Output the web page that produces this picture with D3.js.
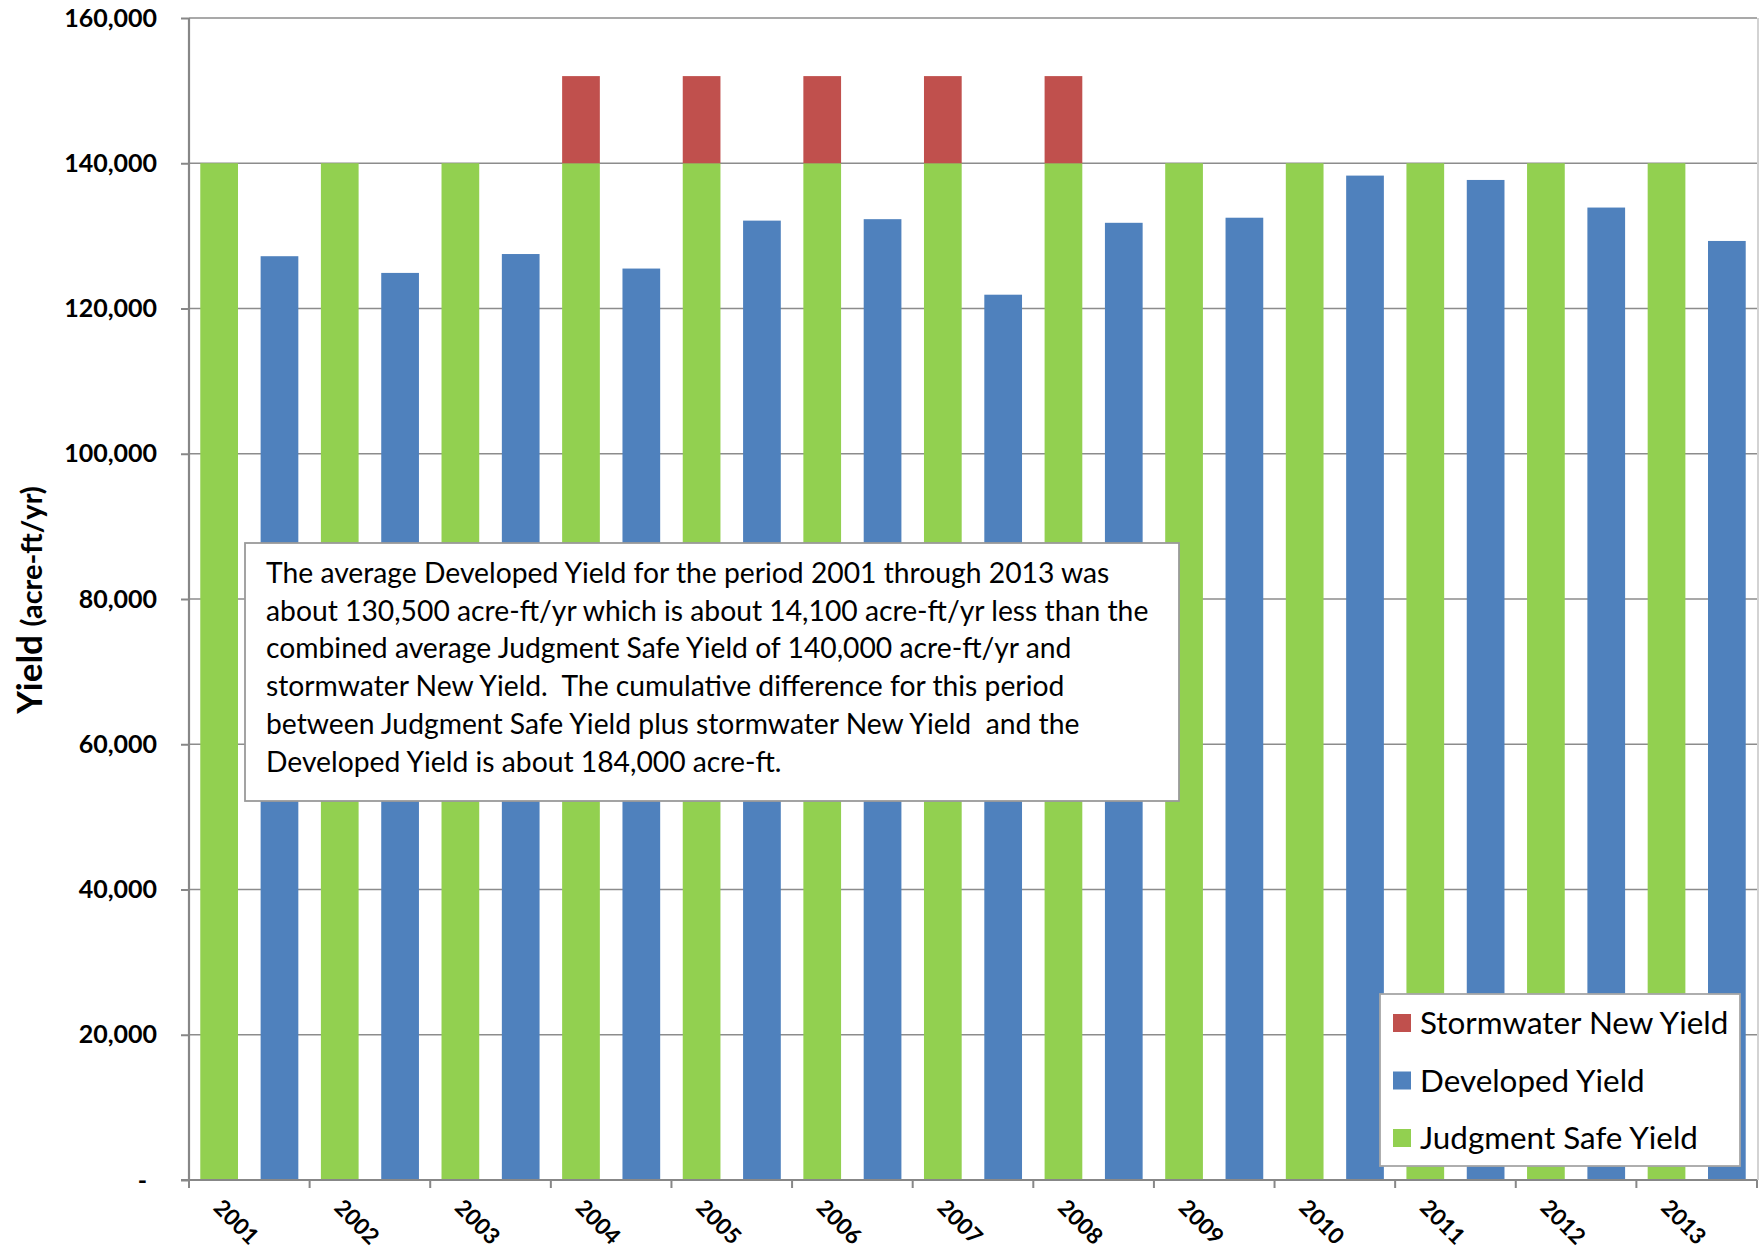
<!DOCTYPE html>
<html>
<head>
<meta charset="utf-8">
<script src="https://cdn.jsdelivr.net/npm/d3@7"></script>
<style>
  html, body { margin: 0; padding: 0; background: #ffffff; }
  svg { display: block; font-family: Lato, "Open Sans", sans-serif; }
</style>
</head>
<body>
<svg id="chart" width="1762" height="1251"></svg>
<script>
// ---- data -------------------------------------------------------------
const years = ["2001", "2002", "2003", "2004", "2005", "2006", "2007",
               "2008", "2009", "2010", "2011", "2012", "2013"];
const judgmentSafeYield = [140000, 140000, 140000, 140000, 140000, 140000, 140000,
                           140000, 140000, 140000, 140000, 140000, 140000];
const stormwaterNewYield = [0, 0, 0, 12000, 12000, 12000, 12000,
                            12000, 0, 0, 0, 0, 0];
const developedYield = [127200, 124900, 127500, 125500, 132100, 132300, 121900,
                        131800, 132500, 138300, 137700, 133900, 129300];
const yTickValues = [0, 20000, 40000, 60000, 80000, 100000, 120000, 140000, 160000];
const legendNames = ["Stormwater New Yield", "Developed Yield", "Judgment Safe Yield"];
const noteLines = [
  "The average Developed Yield for the period 2001 through 2013 was",
  "about 130,500 acre-ft/yr which is about 14,100 acre-ft/yr less than the",
  "combined average Judgment Safe Yield of 140,000 acre-ft/yr and",
  "stormwater New Yield.  The cumulative difference for this period",
  "between Judgment Safe Yield plus stormwater New Yield  and the",
  "Developed Yield is about 184,000 acre-ft."
];

// ---- layout & style ---------------------------------------------------
const W = 1762, H = 1251;
const plot = { left: 189, right: 1757, top: 18, bottom: 1180 };
const colors = {
  safe: "#92D050",
  developed: "#4F81BD",
  storm: "#C0504D",
  axis: "#878787",
  grid: "#8c8c8c"
};

const svg = d3.select("#chart");

const x = d3.scaleBand().domain(years).range([plot.left, plot.right]).padding(0);
const inner = d3.scaleBand().domain(["safe", "developed"])
  .range([0, x.bandwidth()]).paddingInner(0.375).paddingOuter(0.187);
const y = d3.scaleLinear().domain([0, 160000]).range([plot.bottom, plot.top]);

const rows = years.map((yr, i) => ({
  year: yr,
  safe: judgmentSafeYield[i],
  storm: stormwaterNewYield[i],
  developed: developedYield[i]
}));

// ---- gridlines ----------------------------------------------------------
svg.append("g")
  .selectAll("line")
  .data(yTickValues.filter(v => v > 0))
  .join("line")
  .attr("x1", plot.left).attr("x2", plot.right)
  .attr("y1", d => y(d)).attr("y2", d => y(d))
  .attr("stroke", colors.grid).attr("stroke-width", 1.6);

// right border of the plot area
svg.append("line")
  .attr("x1", plot.right + 1).attr("x2", plot.right + 1)
  .attr("y1", y(160000)).attr("y2", y(0))
  .attr("stroke", "#c4c4c4").attr("stroke-width", 1.5);

// ---- bars -------------------------------------------------------------
const bars = svg.append("g");
bars.selectAll("rect.safe")
  .data(rows).join("rect").attr("class", "safe")
  .attr("x", d => x(d.year) + inner("safe"))
  .attr("width", inner.bandwidth())
  .attr("y", d => y(d.safe))
  .attr("height", d => y(0) - y(d.safe))
  .attr("fill", colors.safe);

bars.selectAll("rect.storm")
  .data(rows.filter(d => d.storm > 0)).join("rect").attr("class", "storm")
  .attr("x", d => x(d.year) + inner("safe"))
  .attr("width", inner.bandwidth())
  .attr("y", d => y(d.safe + d.storm))
  .attr("height", d => y(d.safe) - y(d.safe + d.storm))
  .attr("fill", colors.storm);

bars.selectAll("rect.developed")
  .data(rows).join("rect").attr("class", "developed")
  .attr("x", d => x(d.year) + inner("developed"))
  .attr("width", inner.bandwidth())
  .attr("y", d => y(d.developed))
  .attr("height", d => y(0) - y(d.developed))
  .attr("fill", colors.developed);

// ---- y axis -------------------------------------------------------------
const fmt = d3.format(",");
const yAxis = d3.axisLeft(y).tickValues(yTickValues).tickSize(8).tickPadding(24)
  .tickFormat(d => d === 0 ? "" : fmt(d));
const gy = svg.append("g").attr("transform", `translate(${plot.left},0)`).call(yAxis);
gy.select(".domain").attr("stroke", colors.axis).attr("stroke-width", 2.2)
  .attr("d", `M0,${plot.top}V${plot.bottom}`);
gy.selectAll(".tick line").attr("stroke", colors.axis).attr("stroke-width", 2);
gy.selectAll(".tick text")
  .attr("fill", "#000").attr("font-family", "Lato, sans-serif")
  .attr("font-size", 25).attr("font-weight", 700);
// zero is written as a dash, set in from the other labels
gy.selectAll(".tick").filter(d => d === 0).append("text")
  .attr("x", -42).attr("dy", "0.32em")
  .attr("text-anchor", "end").attr("fill", "#000")
  .attr("font-family", "Lato, sans-serif").attr("font-size", 25).attr("font-weight", 700)
  .text("-");

// ---- x axis -------------------------------------------------------------
const gx = svg.append("g");
gx.append("line")
  .attr("x1", plot.left - 8).attr("x2", plot.right)
  .attr("y1", plot.bottom).attr("y2", plot.bottom)
  .attr("stroke", colors.axis).attr("stroke-width", 2.2);
const boundaries = years.map(d => x(d)).concat([x.range()[1]]);
gx.selectAll("line.tick")
  .data(boundaries).join("line").attr("class", "tick")
  .attr("x1", d => d).attr("x2", d => d)
  .attr("y1", plot.bottom).attr("y2", plot.bottom + 8)
  .attr("stroke", colors.axis).attr("stroke-width", 2);
gx.selectAll("text")
  .data(years).join("text")
  .attr("transform", d => `translate(${x(d) + x.bandwidth() / 2 - 13},${plot.bottom + 42}) rotate(45)`)
  .attr("text-anchor", "middle").attr("dy", "0.35em")
  .attr("font-family", "Lato, sans-serif").attr("font-size", 22.5).attr("font-weight", 700)
  .attr("fill", "#000")
  .text(d => d);

// ---- y axis title -------------------------------------------------------
const yt = svg.append("text")
  .attr("transform", `translate(42,${(plot.top + plot.bottom) / 2 + 1}) rotate(-90)`)
  .attr("text-anchor", "middle").attr("font-weight", 700).attr("fill", "#000");
yt.append("tspan").attr("font-size", 35).text("Yield ");
yt.append("tspan").attr("font-size", 29).text("(acre-ft/yr)");

// ---- note box -----------------------------------------------------------
const note = { x: 245, y: 543, w: 934, h: 258, padX: 21, first: 30, lead: 37.8 };
const ng = svg.append("g");
ng.append("rect")
  .attr("x", note.x).attr("y", note.y).attr("width", note.w).attr("height", note.h)
  .attr("fill", "#fff").attr("stroke", "#9a9a9a").attr("stroke-width", 1.8);
const nt = ng.append("g")
  .attr("transform", `translate(${note.x + note.padX},${note.y + note.first}) scale(1.01,1)`);
nt.selectAll("text")
  .data(noteLines).join("text")
  .attr("x", 0).attr("y", (d, i) => i * note.lead)
  .attr("dy", "0.35em")
  .attr("font-family", "Lato, sans-serif").attr("font-size", 28)
  .attr("fill", "#000").style("white-space", "pre")
  .text(d => d);

// ---- legend -------------------------------------------------------------
const leg = { x: 1380, y: 994, w: 360, h: 172, rowTop: 29, rowGap: 57.5 };
const legendColors = [colors.storm, colors.developed, colors.safe];
const lg = svg.append("g");
lg.append("rect")
  .attr("x", leg.x).attr("y", leg.y).attr("width", leg.w).attr("height", leg.h)
  .attr("fill", "#fff").attr("stroke", "#a6a6a6").attr("stroke-width", 1.8);
const items = lg.selectAll("g.item")
  .data(legendNames).join("g").attr("class", "item")
  .attr("transform", (d, i) => `translate(${leg.x + 13},${leg.y + leg.rowTop + i * leg.rowGap})`);
items.append("rect")
  .attr("x", 0).attr("y", -9).attr("width", 18).attr("height", 18)
  .attr("fill", (d, i) => legendColors[i]);
items.append("text")
  .attr("x", 27).attr("dy", "0.36em")
  .attr("font-family", "Lato, sans-serif").attr("font-size", 31.4).attr("fill", "#000")
  .text(d => d);
</script>
</body>
</html>
